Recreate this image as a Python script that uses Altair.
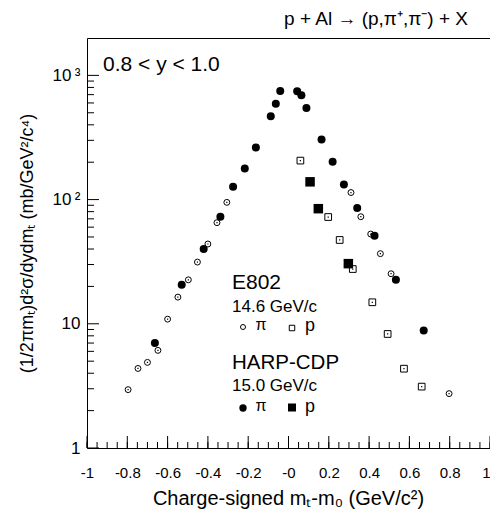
import altair as alt
import pandas as pd

# ---- data ----
harp_pi_x = [-0.663, -0.530, -0.421, -0.338, -0.275, -0.217, -0.162, -0.088, -0.063, -0.041,
             0.043, 0.064, 0.089, 0.164, 0.219, 0.275, 0.341, 0.427, 0.533, 0.671]
harp_pi_y = [7.0, 20.6, 40.0, 72.8, 127, 178, 263, 468, 592, 749,
             746, 693, 546, 304, 202, 132, 85.6, 51.2, 22.6, 8.85]

e802_pi_x = [-0.796, -0.747, -0.700, -0.648, -0.600, -0.549, -0.497, -0.452, -0.400, -0.355,
             -0.306, 0.310, 0.359, 0.408, 0.456, 0.509, 0.797]
e802_pi_y = [2.95, 4.37, 4.89, 6.11, 10.9, 16.4, 22.6, 31.4, 43.9, 65.2,
             95, 114, 72.8, 52.8, 36.7, 25.3, 2.74]

e802_p_x = [0.059, 0.197, 0.254, 0.319, 0.416, 0.492, 0.573, 0.661]
e802_p_y = [206, 72.4, 47.3, 27.6, 14.9, 8.28, 4.35, 3.12]

harp_p_x = [0.107, 0.148, 0.297]
harp_p_y = [139, 84.5, 30.5]

x_major = [-1, -0.8, -0.6, -0.4, -0.2, 0, 0.2, 0.4, 0.6, 0.8, 1]
x_minor = [round(-1 + 0.05 * i, 2) for i in range(41)]
y_major = [1, 10, 100, 1000]
y_minor = [m * 10 ** k for k in range(3) for m in range(2, 10)]

FONT = "Liberation Sans"
W, H = 403, 410

xscale = alt.Scale(domain=[-1, 1], nice=False, zero=False)
yscale = alt.Scale(type="log", domain=[1, 2000], nice=False)


def df(xs, ys):
    return pd.DataFrame({"x": xs, "y": ys})


x_axis = alt.Axis(
    values=x_major,
    labelExpr="datum.value < -0.99 ? '-1' : datum.value > 0.99 ? '1' : abs(datum.value) < 0.001 ? '-0' : (datum.value < 0 ? '-' : '') + format(abs(datum.value), '.1f')",
    labelAlign={"condition": {"test": "datum.value > 0.99", "value": "right"}, "value": "center"},
    ticks=False, domain=False, grid=False, labelFlush=False,
    labelFont=FONT, labelFontSize=15, labelColor="black", labelPadding=17,
    title="Charge-signed m\u209c-m\u2080 (GeV/c\u00b2)",
    titleFont=FONT, titleFontSize=20, titleFontWeight="normal", titleColor="black",
    titleX=201, titleY=56, titleAlign="center", titleBaseline="alphabetic",
)
y_axis = alt.Axis(
    values=y_major,
    labelExpr="datum.value > 999 ? '10\u2009\u00b3' : datum.value > 99 ? '10\u2009\u00b2' : datum.value > 9 ? '10\u2002' : '1\u2002\u2009'",
    ticks=False, domain=False, grid=False, labelFlush=False,
    labelFont=FONT, labelFontSize=17, labelColor="black", labelPadding=7,
    title="(1/2\u03c0m\u209c)d\u00b2\u03c3/dydm\u209c (mb/GeV\u00b2/c\u2074)",
    titleFont=FONT, titleFontSize=18, titleFontWeight="normal", titleColor="black",
    titleX=-60, titleY=205, titleAngle=270, titleAlign="center", titleBaseline="middle",
)

X = lambda: alt.X("x:Q", scale=xscale, axis=x_axis)
Y = lambda: alt.Y("y:Q", scale=yscale, axis=y_axis)


def pts(data, shape, filled, size):
    if filled:
        m = alt.Chart(data).mark_point(shape=shape, filled=True, fill="black",
                                       strokeWidth=0, size=size, opacity=1)
    else:
        m = alt.Chart(data).mark_point(shape=shape, filled=False, stroke="black",
                                       strokeWidth=1, size=size, opacity=1)
    return m.encode(x=X(), y=Y())


def dots(data):
    return alt.Chart(data).mark_square(size=1.5, color="black", opacity=1).encode(x=X(), y=Y())


# inward ticks
ytick_major = alt.Chart(pd.DataFrame({"y": y_major})).mark_rule(color="black", strokeWidth=1).encode(
    y=Y(), x=alt.value(0), x2=alt.value(12))
ytick_minor = alt.Chart(pd.DataFrame({"y": y_minor})).mark_rule(color="black", strokeWidth=1).encode(
    y=Y(), x=alt.value(0), x2=alt.value(7))
xtick_major = alt.Chart(pd.DataFrame({"x": x_major})).mark_rule(color="black", strokeWidth=1).encode(
    x=X(), y=alt.value(H), y2=alt.value(H - 12))
xtick_minor = alt.Chart(pd.DataFrame({"x": x_minor})).mark_rule(color="black", strokeWidth=1).encode(
    x=X(), y=alt.value(H), y2=alt.value(H - 6))


def label(text, px, py, size, align="left", baseline="alphabetic"):
    return alt.Chart(alt.Data(values=[{}])).mark_text(
        text=text, align=align, baseline=baseline, fontSize=size, font=FONT, color="black"
    ).encode(x=alt.value(px), y=alt.value(py))


def sym(px, py, shape, filled, size):
    if filled:
        m = alt.Chart(alt.Data(values=[{}])).mark_point(shape=shape, filled=True, fill="black",
                                                         strokeWidth=0, size=size, opacity=1)
    else:
        m = alt.Chart(alt.Data(values=[{}])).mark_point(shape=shape, filled=False, stroke="black",
                                                         strokeWidth=1, size=size, opacity=1)
    return m.encode(x=alt.value(px), y=alt.value(py))


annotations = [
    label("p + Al \u2192 (p,\u03c0\u207a,\u03c0\u207b) + X", 381, -13, 19, align="right"),
    label("0.8 < y < 1.0", 16, 33, 21),
    label("E802", 145, 251, 21),
    label("14.6 GeV/c", 145, 274, 17),
    sym(156, 289, "circle", False, 25),
    label("\u03c0", 174, 292, 16, align="center"),
    sym(205, 290, "square", False, 30),
    label("p", 223, 292.5, 18, align="center"),
    label("HARP-CDP", 145, 331, 20.5),
    label("15.0 GeV/c", 145, 353, 17),
    sym(156, 370, "circle", True, 54),
    label("\u03c0", 174, 373, 16, align="center"),
    sym(205, 369.5, "square", True, 64),
    label("p", 223, 373.5, 18, align="center"),
]

layers = [
    pts(df(e802_pi_x, e802_pi_y), "circle", False, 35),
    dots(df(e802_pi_x, e802_pi_y)),
    pts(df(e802_p_x, e802_p_y), "square", False, 45),
    dots(df(e802_p_x, e802_p_y)),
    pts(df(harp_pi_x, harp_pi_y), "circle", True, 64),
    pts(df(harp_p_x, harp_p_y), "square", True, 90),
    ytick_major, ytick_minor, xtick_major, xtick_minor,
] + annotations

chart = alt.layer(*layers).properties(
    width=W, height=H,
    autosize=alt.AutoSizeParams(type="none"),
    padding={"left": 79, "top": 30, "right": 0, "bottom": 61},
    background="white",
).configure_view(stroke="black", strokeWidth=1)

chart.save("out.html", embed_options={"renderer": "svg", "actions": False})
